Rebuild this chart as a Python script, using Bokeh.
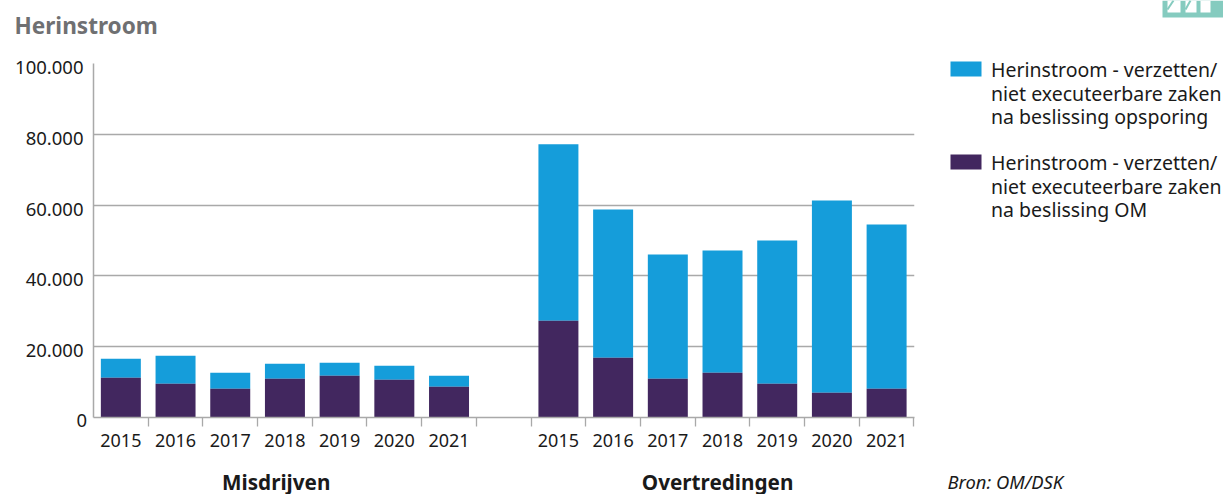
from bokeh.plotting import figure
from bokeh.layouts import row
from bokeh.models import Range1d, FixedTicker, LinearAxis, Grid, Label
from bokeh.core.properties import value
from bokeh.embed import file_html
from bokeh.resources import INLINE

years = ["2015", "2016", "2017", "2018", "2019", "2020", "2021"]
groups = ["Misdrijven", "Overtredingen"]
om_misdrijven = [11230, 9540, 8120, 10950, 11800, 10670, 8690]
totaal_misdrijven = [16600, 17460, 12650, 15200, 15480, 14630, 11800]
om_overtredingen = [27360, 16890, 10950, 12620, 9540, 6990, 8120]
totaal_overtredingen = [77170, 58770, 46040, 47170, 50000, 61320, 54530]
y_ticks = [20000, 40000, 60000, 80000, 100000]
y_labels = ["20.000", "40.000", "60.000", "80.000", "100.000"]
legend_blue = ["Herinstroom - verzetten/", "niet executeerbare zaken", "na beslissing opsporing"]
legend_purple = ["Herinstroom - verzetten/", "niet executeerbare zaken", "na beslissing OM"]
BLUE = "#159dda"
PURPLE = "#42275f"
GREY = "#a9a9a9"
TEXT = "#1a1a1a"
FONT = "Noto Sans"
H = 494
MAIN_W = 915
SHIFT = 4 * 100000 / 354  # labels sit 4px under their gridline

p = figure(frame_width=821, frame_height=354, output_backend="svg", toolbar_location=None,
           x_range=Range1d(0, 15.01), y_range=Range1d(0, 100000),
           min_border_left=93, min_border_right=1, min_border_top=63,
           min_border_bottom=77, outline_line_color=None, x_axis_type=None, y_axis_type=None)
p.frame_align = False
p.extra_y_ranges = {"labels": Range1d(SHIFT, 100000 + SHIFT)}

p.add_layout(Label(x=-79, y=38, x_units="screen", y_units="screen", text="Herinstroom", text_font=FONT,
                   text_font_size="22.6px", text_font_style="bold", text_color="#6f7072",
                   text_align="left", text_baseline="middle"), "above")

centers = [i + 0.5 for i in range(7)] + [i + 8.5 for i in range(7)]
om = om_misdrijven + om_overtredingen
tot = totaal_misdrijven + totaal_overtredingen
p.vbar(x=centers, width=0.731, bottom=om, top=tot, fill_color=BLUE, line_color=None)
p.vbar(x=centers, width=0.731, bottom=0, top=om, fill_color=PURPLE, line_color=None)

# y axes: the line, then the labels, then the "0" that sits just under the base line
yline = LinearAxis(ticker=FixedTicker(ticks=[]), major_tick_line_color=None, minor_tick_line_color=None,
                   axis_line_color=GREY, axis_line_width=1.5, major_label_standoff=0)
p.add_layout(yline, "left")
ylab = LinearAxis(y_range_name="labels", ticker=FixedTicker(ticks=y_ticks), major_tick_line_color=None,
                  minor_tick_line_color=None, axis_line_color=None, major_label_standoff=4,
                  major_label_overrides=dict(zip(y_ticks, y_labels)), major_label_text_font=FONT,
                  major_label_text_font_size="18.5px", major_label_text_color=TEXT)
p.add_layout(ylab, "left")
p.add_layout(Label(x=75, y=-3, x_units="screen", y_units="screen", text="0", text_font=FONT,
                   text_font_size="18.5px", text_color=TEXT, text_align="left", text_baseline="middle"), "left")
p.add_layout(Grid(dimension=1, ticker=FixedTicker(ticks=y_ticks), grid_line_color=GREY, grid_line_width=1.3))

# x axes: boundary ticks, year labels, group labels
xticks = LinearAxis(ticker=FixedTicker(ticks=list(range(1, 16))),
                    major_label_overrides={i: "" for i in range(1, 16)},
                    major_tick_in=0, major_tick_out=9, minor_tick_line_color=None,
                    major_tick_line_color=GREY, major_tick_line_width=1.3,
                    axis_line_color=GREY, axis_line_width=1.5, major_label_standoff=0)
p.add_layout(xticks, "below")
xyears = LinearAxis(ticker=FixedTicker(ticks=centers), major_label_overrides=dict(zip(centers, years + years)),
                    major_tick_line_color=None, minor_tick_line_color=None, axis_line_color=None,
                    major_label_standoff=1, major_label_text_font=FONT, major_label_text_font_size="18px",
                    major_label_text_color=TEXT)
p.add_layout(xyears, "below")
group_x = [3.34, 11.41]
xgroups = LinearAxis(ticker=FixedTicker(ticks=group_x), major_label_overrides=dict(zip(group_x, groups)),
                     major_tick_line_color=None, minor_tick_line_color=None, axis_line_color=None,
                     major_label_standoff=12, major_label_text_font=FONT, major_label_text_font_size="20.7px",
                     major_label_text_font_style="bold", major_label_text_color=TEXT)
p.add_layout(xgroups, "below")

# right-hand side: legend, source, corner; scale is the picture's own pixels
s = figure(width=1223 - MAIN_W, height=H, output_backend="svg", toolbar_location=None,
           x_range=Range1d(MAIN_W, 1223), y_range=Range1d(H, 0),
           min_border=0, outline_line_color=None, x_axis_type=None, y_axis_type=None)
s.frame_align = False
s.xgrid.visible = False
s.ygrid.visible = False

for colour, y0, lines in [(BLUE, 61, legend_blue), (PURPLE, 154, legend_purple)]:
    s.quad(left=[950], right=[981], top=[y0], bottom=[y0 + 15], fill_color=colour, line_color=None)
    s.text(x=[990.5] * 3, y=[y0 + 8 + i * 23.5 for i in range(3)], text=lines, text_font=value(FONT),
           text_font_size="19.5px", text_color=TEXT, text_align="left", text_baseline="middle")

s.text(x=[947], y=[481], text=["Bron: OM/DSK"], text_font=value(FONT), text_font_size="18.4px",
       text_font_style="italic", text_color=TEXT, text_align="left", text_baseline="middle")

# decorative corner
s.quad(left=[1162], right=[1223], top=[0], bottom=[17], fill_color="#85cbbf", line_color=None)
s.quad(left=[1167, 1185, 1200], right=[1180, 1196, 1210], top=[0, 0, 0], bottom=[12, 12, 12],
       fill_color="white", line_color=None)
s.segment(x0=[1167, 1185], y0=[9, 9], x1=[1173, 1190], y1=[0, 0], line_color="#85cbbf", line_width=2)

layout = row(p, s, spacing=0)
open("out.html", "w").write(file_html(layout, INLINE))
